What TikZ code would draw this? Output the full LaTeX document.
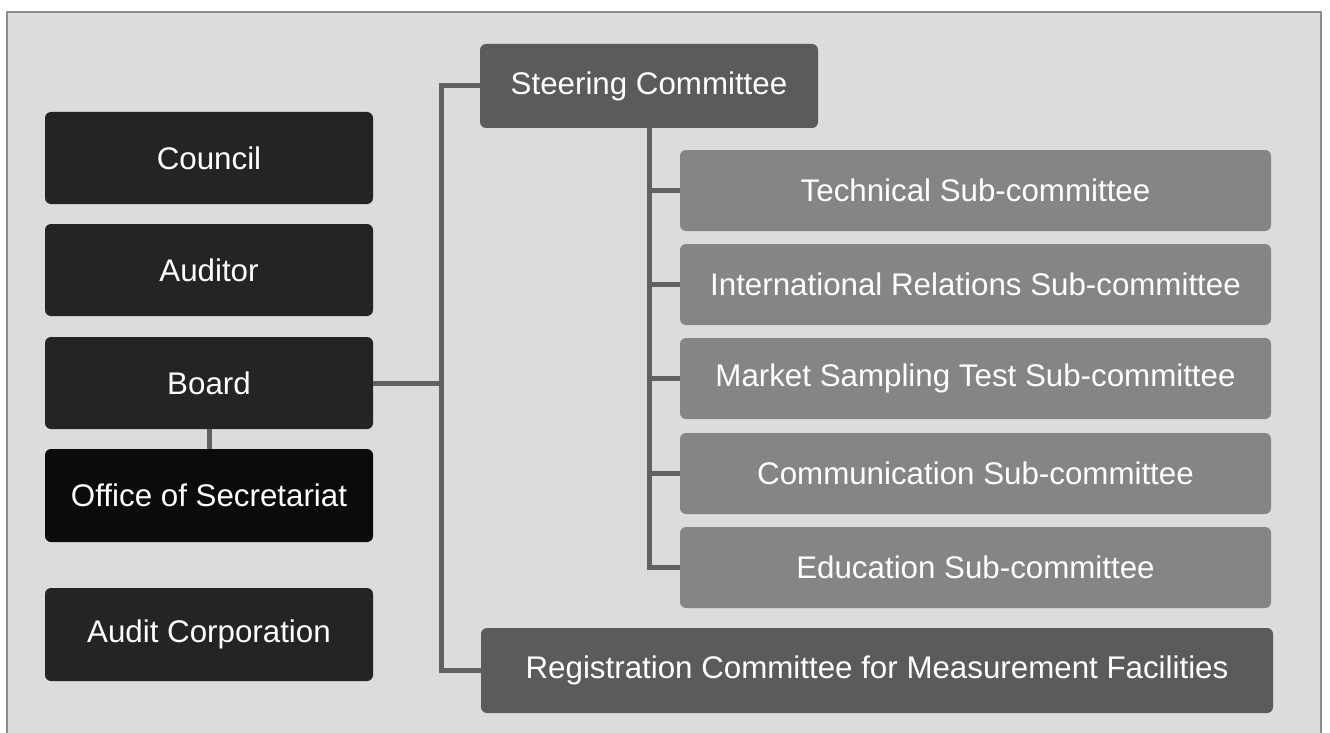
\documentclass[tikz,border=0pt]{standalone}
\usepackage{fontspec}
\setmainfont{Liberation Sans}
\definecolor{framebg}{HTML}{DCDCDC}
\definecolor{frameline}{HTML}{8C8C8C}
\definecolor{dark}{HTML}{242424}
\definecolor{darker}{HTML}{0B0B0B}
\definecolor{mid}{HTML}{5B5B5B}
\definecolor{light}{HTML}{858585}
\definecolor{conncol}{HTML}{616161}
\tikzset{
  x=1pt,y=-1pt,
  box/.style={rectangle, rounded corners=6pt, inner sep=0pt, text=white,
    font=\fontsize{31.3}{37}\selectfont},
  leftbox/.style={box, fill=dark, minimum width=328pt, minimum height=92pt},
  subbox/.style={box, fill=light, minimum width=591pt, minimum height=81pt},
  conn/.style={draw=conncol, line width=5pt},
}
\begin{document}
\begin{tikzpicture}
\useasboundingbox (0,0) rectangle (1330,733);
\fill[white] (0,0) rectangle (1330,733);
\draw[fill=framebg, draw=frameline, line width=2pt] (7,12) rectangle (1321,745);
% left column
\node[leftbox] (council) at (209,158) {Council};
\node[leftbox] (auditor) at (209,270) {Auditor};
\node[leftbox] (board) at (209,383) {Board};
\node[leftbox, fill=darker, minimum height=93pt] (office) at (209,495.5) {Office of Secretariat};
\node[leftbox, minimum height=93pt] (auditcorp) at (209,634.5) {Audit Corporation};
% committees
\node[box, fill=mid, minimum width=338pt, minimum height=84pt] (steer) at (649,86) {Steering Committee};
\node[box, fill=mid, minimum width=792pt, minimum height=85pt] (reg) at (877,670.5) {Registration Committee for Measurement Facilities};
\node[subbox] (tech) at (975.5,190.5) {Technical Sub-committee};
\node[subbox] (intl) at (975.5,284.5) {International Relations Sub-committee};
\node[subbox] (market) at (975.5,378.5) {Market Sampling Test Sub-committee};
\node[subbox] (comm) at (975.5,473.5) {Communication Sub-committee};
\node[subbox] (edu) at (975.5,567.5) {Education Sub-committee};
\coordinate (tk) at (441,0);
% connectors
\draw[conn] (steer.west) -| (tk |- reg.west) -- (reg.west);
\draw[conn] (board.east) -- (board.east -| tk);
\draw[conn] (board.south) -- (office.north);
\draw[conn] (steer.south) |- (edu.west);
\draw[conn] (tech.west) -- (tech.west -| steer.south);
\draw[conn] (intl.west) -- (intl.west -| steer.south);
\draw[conn] (market.west) -- (market.west -| steer.south);
\draw[conn] (comm.west) -- (comm.west -| steer.south);
\end{tikzpicture}
\end{document}
